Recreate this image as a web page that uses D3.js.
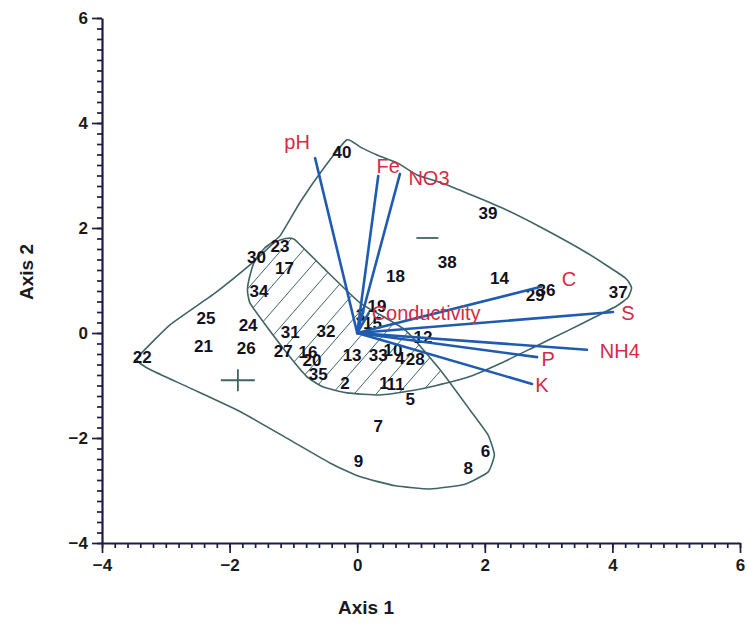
<!DOCTYPE html>
<html>
<head>
<meta charset="utf-8">
<script src="https://cdn.jsdelivr.net/npm/d3@7"></script>
<style>
  html, body { margin: 0; padding: 0; background: #fff; }
  svg { display: block; }
</style>
</head>
<body>
<svg id="chart" width="747" height="627"></svg>
<script>
// Sample scores on the first two ordination axes
const sampleIds = ["1","2","3","4","5","6","7","8","9","10",
  "11","12","13","14","15","16","17","18","19","20",
  "21","22","23","24","25","26","27","28","29","30",
  "31","32","33","34","35","36","37","38","39","40"];
const sampleAxis1 = [0.42,-0.19,0.05,0.67,0.83,2.01,0.33,1.74,0.02,0.56,
  0.60,1.03,-0.08,2.23,0.24,-0.77,-1.14,0.60,0.31,-0.71,
  -2.41,-3.37,-1.21,-1.71,-2.37,-1.74,-1.16,0.91,2.79,-1.58,
  -1.05,-0.49,0.33,-1.54,-0.61,2.96,4.09,1.41,2.05,-0.24];
const sampleAxis2 = [-0.95,-0.95,0.34,-0.48,-1.26,-2.25,-1.77,-2.57,-2.44,-0.32,
  -0.97,-0.08,-0.42,1.05,0.19,-0.36,1.24,1.09,0.51,-0.51,
  -0.25,-0.46,1.66,0.15,0.29,-0.29,-0.34,-0.50,0.72,1.45,
  0.02,0.04,-0.42,0.80,-0.78,0.82,0.78,1.35,2.29,3.45];

// Environmental variables (biplot arrows)
const variables = ["pH","Fe","NO3","C","S","NH4","P","K","Conductivity"];
const varAxis1 = [-0.66,0.33,0.67,2.88,4.01,3.60,2.82,2.74,0.18];
const varAxis2 = [3.33,2.99,3.03,0.88,0.40,-0.32,-0.46,-0.97,0.38];

// Group envelopes (axis units)
const hullA = [[-3.44,-0.46],[-2.93,0.16],[-2.23,0.76],[-1.62,1.36],[-1.30,1.72],[-1.12,1.80],
  [-0.98,1.78],[-0.53,1.24],[0.05,0.57],[0.75,0.06],[1.30,-0.70],[1.77,-1.47],[2.05,-1.94],[2.15,-2.32],
  [2.05,-2.65],[1.69,-2.88],[1.14,-2.97],[0.60,-2.91],[0.05,-2.74],[-0.42,-2.48],[-1.05,-2.04],
  [-1.83,-1.50],[-2.62,-1.05],[-3.24,-0.70],[-3.42,-0.56]];
const hullB = [[-1.21,1.85],[-0.89,2.50],[-0.50,3.18],[-0.16,3.68],[0.05,3.54],[0.31,3.39],
  [0.63,3.24],[0.94,3.01],[1.41,2.82],[2.24,2.40],[2.87,2.02],[3.61,1.52],[4.20,1.05],
  [4.30,0.86],[4.24,0.67],[4.06,0.51],[3.72,0.30],[3.31,0.05],[2.77,-0.27],[2.26,-0.57],
  [1.74,-0.84],[1.21,-1.01],[0.89,-1.09],[0.36,-1.18],[-0.16,-1.14],[-0.53,-1.03],
  [-0.78,-0.84],[-1.05,-0.46],[-1.41,0.11],[-1.68,0.57],[-1.72,0.82],[-1.68,1.10],
  [-1.60,1.39],[-1.45,1.62]];

// Group centroids
const centroidA = [-1.87, -0.90];
const centroidB = [1.10, 1.81];

// Axis ticks
const majorTicks = [-4, -2, 0, 2, 4, 6];
const axisTitleX = "Axis 1";
const axisTitleY = "Axis 2";

const svg = d3.select("#chart");
const x = d3.scaleLinear().domain([-4, 6]).range([102, 740]);
const y = d3.scaleLinear().domain([-4, 6]).range([543, 18]);

const axisColor = "#1c1c46";
const hullColor = "#3f6466";
const arrowColor = "#1f5cb0";
const varColor = "#d42a45";
const font = "Liberation Sans, Arial, sans-serif";

// Minor ticks every 0.2 units
const minorTicks = d3.range(-4, 6.0001, 0.2).map(v => Math.round(v * 10) / 10);

// X axis
const gx = svg.append("g").attr("transform", `translate(0,${y(-4)})`);
gx.call(d3.axisBottom(x).tickValues(minorTicks).tickSize(5).tickFormat(""))
  .call(g => g.select(".domain").remove());
gx.append("g")
  .call(d3.axisBottom(x).tickValues(majorTicks).tickSize(10).tickSizeOuter(0).tickPadding(6).tickFormat(d3.format("d")))
  .call(g => g.selectAll("text").attr("font-size", 17).attr("font-weight", "bold")
           .attr("font-family", font).attr("fill", "#1a1a1a"));
gx.selectAll("line").attr("stroke", axisColor).attr("stroke-width", 1.7);
gx.selectAll(".domain").attr("stroke", axisColor).attr("stroke-width", 2.2);

// Y axis
const gy = svg.append("g").attr("transform", `translate(${x(-4)},0)`);
gy.call(d3.axisLeft(y).tickValues(minorTicks).tickSize(5).tickFormat(""))
  .call(g => g.select(".domain").remove());
gy.append("g")
  .call(d3.axisLeft(y).tickValues(majorTicks).tickSize(10).tickSizeOuter(0).tickPadding(4).tickFormat(d3.format("d")))
  .call(g => g.selectAll("text").attr("font-size", 17).attr("font-weight", "bold")
           .attr("font-family", font).attr("fill", "#1a1a1a"));
gy.selectAll("line").attr("stroke", axisColor).attr("stroke-width", 1.7);
gy.selectAll(".domain").attr("stroke", axisColor).attr("stroke-width", 2.2);

// Axis titles
svg.append("text")
  .attr("x", 366).attr("y", 614)
  .attr("text-anchor", "middle")
  .attr("font-family", font)
  .attr("font-size", 19).attr("font-weight", "bold").attr("fill", "#1a1a1a")
  .text(axisTitleX);
svg.append("text")
  .attr("transform", "translate(33,272) rotate(-90)")
  .attr("text-anchor", "middle")
  .attr("font-family", font)
  .attr("font-size", 19).attr("font-weight", "bold").attr("fill", "#1a1a1a")
  .text(axisTitleY);

// Envelopes, drawn as smooth closed outlines
const hullLine = d3.line().x(d => x(d[0])).y(d => y(d[1])).curve(d3.curveCardinalClosed.tension(0.55));
const defs = svg.append("defs");
defs.append("clipPath").attr("id", "clipA").append("path").attr("d", hullLine(hullA));
defs.append("clipPath").attr("id", "clipB").append("path").attr("d", hullLine(hullB));

// Hatching over the overlap of both envelopes
const hatch = svg.append("g").attr("clip-path", "url(#clipA)")
  .append("g").attr("clip-path", "url(#clipB)");
d3.range(-200, 700, 22).forEach(x0 => {
  hatch.append("line")
    .attr("x1", x0).attr("y1", 500)
    .attr("x2", x0 + 300).attr("y2", 500 - 300 * 1.15)
    .attr("stroke", hullColor).attr("stroke-width", 1);
});

svg.append("path").attr("d", hullLine(hullA))
  .attr("fill", "none").attr("stroke", hullColor).attr("stroke-width", 1.6)
  .attr("stroke-linejoin", "round");
svg.append("path").attr("d", hullLine(hullB))
  .attr("fill", "none").attr("stroke", hullColor).attr("stroke-width", 1.6)
  .attr("stroke-linejoin", "round");

// Centroid markers
svg.append("line")
  .attr("x1", x(centroidA[0]) - 17).attr("x2", x(centroidA[0]) + 17)
  .attr("y1", y(centroidA[1])).attr("y2", y(centroidA[1]))
  .attr("stroke", hullColor).attr("stroke-width", 1.8);
svg.append("line")
  .attr("x1", x(centroidA[0])).attr("x2", x(centroidA[0]))
  .attr("y1", y(centroidA[1]) - 11).attr("y2", y(centroidA[1]) + 11)
  .attr("stroke", hullColor).attr("stroke-width", 1.8);
svg.append("line")
  .attr("x1", x(centroidB[0]) - 11).attr("x2", x(centroidB[0]) + 11)
  .attr("y1", y(centroidB[1])).attr("y2", y(centroidB[1]))
  .attr("stroke", hullColor).attr("stroke-width", 1.8);

// Sample labels
const samples = sampleIds.map((id, i) => ({ id, a1: sampleAxis1[i], a2: sampleAxis2[i] }));
svg.append("g").selectAll("text").data(samples).join("text")
  .attr("x", d => x(d.a1)).attr("y", d => y(d.a2))
  .attr("dy", "0.36em")
  .attr("text-anchor", "middle")
  .attr("font-family", font)
  .attr("font-size", 17).attr("font-weight", "bold")
  .attr("fill", "#111122")
  .text(d => d.id);

// Biplot arrows
const vars = variables.map((name, i) => ({ name, a1: varAxis1[i], a2: varAxis2[i] }));
const labelOffset = {
  "pH": [-18, -16, "middle"], "Fe": [10, -10, "middle"], "NO3": [29, 4, "middle"],
  "C": [28, -8, "middle"], "S": [15, 1, "middle"], "NH4": [33, 1, "middle"],
  "P": [11, 2, "middle"], "K": [10, 1, "middle"], "Conductivity": [3, 0, "start"]
};
svg.append("g").selectAll("line").data(vars).join("line")
  .attr("x1", x(0)).attr("y1", y(0))
  .attr("x2", d => x(d.a1)).attr("y2", d => y(d.a2))
  .attr("stroke", arrowColor).attr("stroke-width", 2.6).attr("stroke-linecap", "round");
svg.append("g").selectAll("text").data(vars).join("text")
  .attr("x", d => x(d.a1) + labelOffset[d.name][0])
  .attr("y", d => y(d.a2) + labelOffset[d.name][1])
  .attr("dy", "0.36em")
  .attr("text-anchor", d => labelOffset[d.name][2])
  .attr("font-family", font)
  .attr("font-size", 20)
  .attr("fill", varColor)
  .text(d => d.name);
</script>
</body>
</html>
